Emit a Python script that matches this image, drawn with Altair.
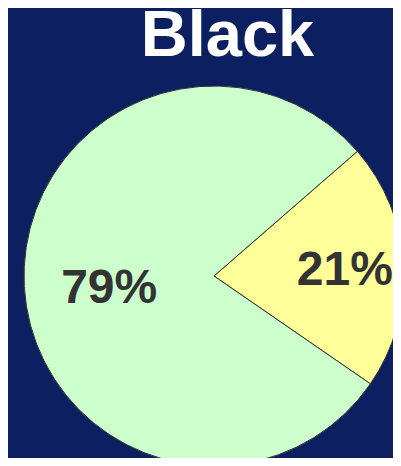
import altair as alt
import pandas as pd

# Data
categories = ["Group B", "Group A"]   # yellow slice first (clockwise order)
values = [21, 79]
labels = ["21%", "79%"]
colors = ["#ffff99", "#ccffcc"]

df = pd.DataFrame({"category": categories, "value": values, "label": labels})

START = 0.855  # radians, rotation of first slice (clockwise from 12 o'clock)
theta_scale = alt.Scale(domain=[0, 100], range=[START, START + 2 * 3.141592653589793])

base = alt.Chart(df).transform_window(
    idx="row_number()"
).transform_stack(
    stack="value", as_=["v0", "v1"], groupby=[], sort=[alt.SortField("idx")]
).transform_calculate(
    mid="(datum.v0 + datum.v1) / 2"
)

TOP = 70
CX = 206
CY = 268 - TOP

pie = base.mark_arc(stroke="#333333", strokeWidth=1, clip=True).encode(
    theta=alt.Theta("v0:Q", scale=theta_scale),
    theta2="v1:Q",
    color=alt.Color("category:N", scale=alt.Scale(domain=categories, range=colors), legend=None),
    x=alt.value(CX),
    y=alt.value(CY),
)

text = base.mark_text(
    font="Liberation Sans",
    fontSize=48,
    fontWeight="bold",
    color="#333333",
    radius={"expr": "datum.category == 'Group B' ? 131 : 105"},
    dy={"expr": "datum.category == 'Group B' ? 2 : 7"},
).encode(
    theta=alt.Theta("mid:Q", scale=theta_scale),
    text="label:N",
    x=alt.value(CX),
    y=alt.value(CY),
)

chart = alt.layer(pie, text).properties(
    width=385,
    height=450 - TOP,
    padding={"left": 0, "top": TOP, "right": 0, "bottom": 0},
    autosize=alt.AutoSizeParams(type="none"),
    background="#0c1f60",
    title=alt.TitleParams(
        "Black",
        font="Liberation Sans",
        fontSize=65,
        fontWeight="bold",
        color="white",
        anchor="middle",
        dx=27,
        dy=-4,
    ),
).configure_view(stroke=None)

chart.save("out.html", embed_options={"renderer": "svg", "actions": False})
